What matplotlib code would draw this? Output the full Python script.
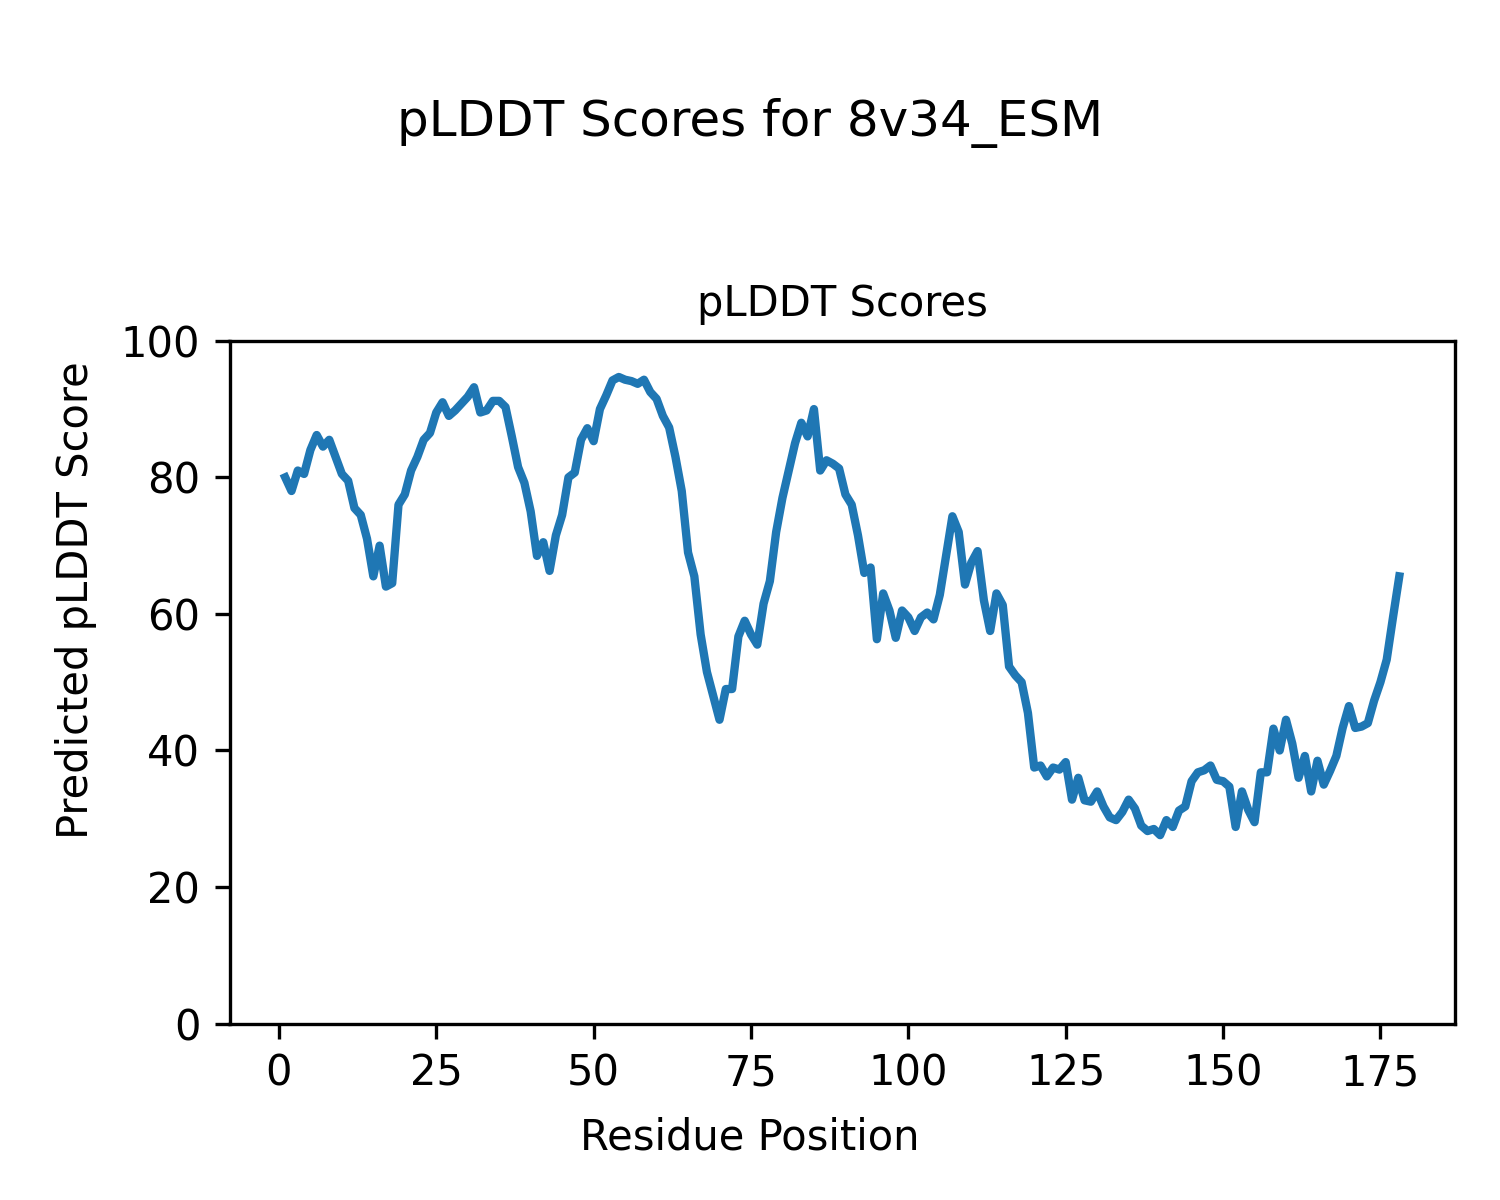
import numpy as np
import matplotlib
matplotlib.use("Agg")
import matplotlib.pyplot as plt

protein_name = "8v34_ESM"

plddt = [
    80.0, 78.0, 81.0, 80.5, 84.0, 86.2, 84.5, 85.5, 83.0, 80.5,
    79.5, 75.5, 74.5, 71.0, 65.5, 70.0, 64.0, 64.5, 76.0, 77.5,
    81.0, 83.0, 85.5, 86.5, 89.5, 91.0, 89.0, 89.8, 90.8, 91.8,
    93.2, 89.5, 89.8, 91.2, 91.2, 90.3, 86.0, 81.5, 79.2, 75.0,
    68.5, 70.5, 66.3, 71.5, 74.5, 80.0, 80.7, 85.5, 87.2, 85.3,
    90.0, 92.0, 94.2, 94.7, 94.3, 94.1, 93.7, 94.3, 92.5, 91.5,
    89.0, 87.3, 83.0, 78.0, 69.0, 65.5, 57.0, 51.5, 48.0, 44.5,
    49.0, 49.0, 56.7, 59.0, 57.0, 55.5, 61.5, 64.8, 72.0, 77.0,
    81.0, 85.0, 88.0, 86.0, 90.0, 81.0, 82.5, 82.0, 81.3, 77.5,
    76.0, 71.5, 66.0, 66.8, 56.3, 63.0, 60.5, 56.5, 60.5, 59.5,
    57.5, 59.5, 60.2, 59.2, 62.8, 68.5, 74.3, 72.0, 64.3, 67.5,
    69.2, 62.0, 57.5, 63.0, 61.3, 52.3, 51.0, 50.0, 45.5, 37.5,
    37.8, 36.2, 37.5, 37.2, 38.3, 32.8, 36.0, 32.7, 32.5, 34.0,
    31.8, 30.2, 29.8, 31.0, 32.8, 31.5, 29.0, 28.2, 28.5, 27.6,
    29.8, 28.8, 31.2, 31.8, 35.5, 36.8, 37.1, 37.8, 35.7, 35.5,
    34.7, 28.8, 34.0, 31.3, 29.5, 36.8, 36.8, 43.2, 40.0, 44.5,
    41.0, 36.0, 39.2, 34.0, 38.5, 35.0, 37.0, 39.2, 43.3, 46.5,
    43.3, 43.5, 44.0, 47.3, 50.0, 53.3, 59.5, 65.5,
]
residues = np.arange(1, len(plddt) + 1)

fig = plt.figure(figsize=(5, 4), dpi=300)
ax = fig.add_axes([0.153, 0.147, 0.817, 0.569])

ax.plot(residues, plddt, color="#1f77b4", linewidth=2)
ax.set_ylim(0, 100)
ax.set_title("pLDDT Scores", fontsize=10)

# shared-style labels centred on the figure
fig.text(0.5, 0.052, "Residue Position", ha="center", va="center", fontsize=10)
fig.text(0.051, 0.5, "Predicted pLDDT Score", ha="center", va="center",
         rotation=90, fontsize=10)

fig.suptitle(f"pLDDT Scores for {protein_name}", y=0.918)

plt.savefig("out.png", dpi=300)
